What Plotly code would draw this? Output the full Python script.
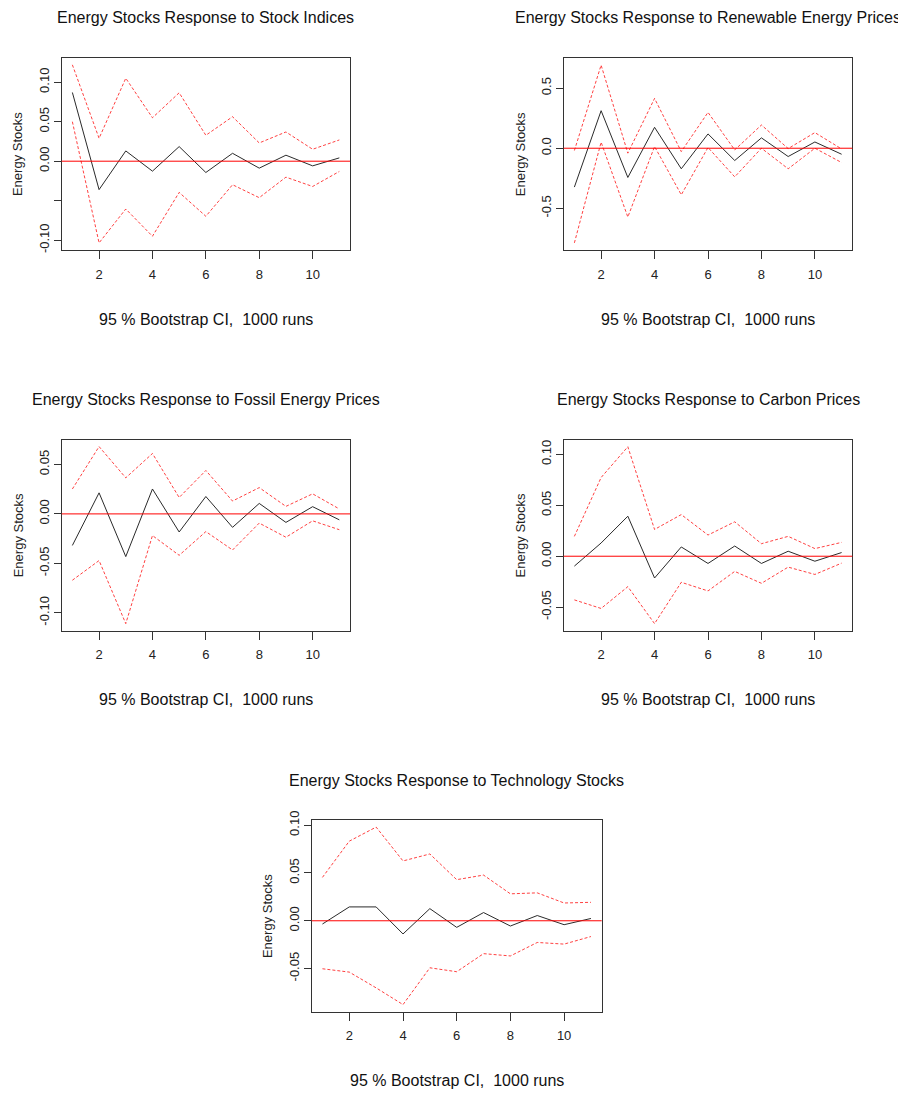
import plotly.graph_objects as go

steps = list(range(1, 12))

# Panel 1: Stock Indices
si_irf = [0.087, -0.036, 0.013, -0.0126, 0.0185, -0.0143, 0.010, -0.0088, 0.0076, -0.0059, 0.0042]
si_upper = [0.122, 0.029, 0.105, 0.055, 0.0866, 0.0328, 0.0563, 0.0231, 0.037, 0.0151, 0.0269]
si_lower = [0.050, -0.1034, -0.0605, -0.095, -0.0395, -0.0697, -0.0298, -0.0462, -0.0202, -0.032, -0.013]

# Panel 2: Renewable Energy Prices
re_irf = [-0.323, 0.312, -0.243, 0.174, -0.171, 0.119, -0.102, 0.086, -0.069, 0.052, -0.050]
re_upper = [-0.019, 0.691, -0.041, 0.414, -0.028, 0.298, -0.014, 0.193, -0.003, 0.130, -0.006]
re_lower = [-0.787, 0.050, -0.572, 0.014, -0.387, 0.006, -0.238, 0.0, -0.171, 0.0, -0.119]

# Panel 3: Fossil Energy Prices
fe_irf = [-0.0319, 0.0213, -0.0432, 0.0252, -0.0183, 0.0176, -0.0136, 0.0106, -0.0086, 0.0073, -0.006]
fe_upper = [0.0252, 0.0681, 0.0365, 0.0611, 0.0166, 0.0439, 0.013, 0.0266, 0.0076, 0.0203, 0.005]
fe_lower = [-0.0671, -0.0472, -0.111, -0.0219, -0.0419, -0.0179, -0.0365, -0.0093, -0.0236, -0.007, -0.016]

# Panel 4: Carbon Prices
cp_irf = [-0.0097, 0.013, 0.0393, -0.0214, 0.0091, -0.0071, 0.010, -0.0071, 0.0049, -0.0049, 0.0036]
cp_upper = [0.0195, 0.0773, 0.1075, 0.0263, 0.0409, 0.0208, 0.0338, 0.0123, 0.0195, 0.0075, 0.0136]
cp_lower = [-0.0429, -0.0513, -0.0299, -0.0662, -0.0256, -0.0341, -0.0149, -0.0266, -0.0107, -0.0179, -0.0068]

# Panel 5: Technology Stocks
ts_irf = [-0.0034, 0.0145, 0.0145, -0.0138, 0.0127, -0.0069, 0.0086, -0.0055, 0.0055, -0.0041, 0.0024]
ts_upper = [0.0454, 0.0833, 0.098, 0.0626, 0.0699, 0.043, 0.0478, 0.0282, 0.0292, 0.0186, 0.0193]
ts_lower = [-0.0502, -0.0537, -0.0702, -0.0877, -0.0492, -0.0533, -0.0344, -0.0368, -0.0227, -0.0244, -0.0165]

titles = [
    "Energy Stocks Response to Stock Indices",
    "Energy Stocks Response to Renewable Energy Prices",
    "Energy Stocks Response to Fossil Energy Prices",
    "Energy Stocks Response to Carbon Prices",
    "Energy Stocks Response to Technology Stocks",
]
y_tickvals = [
    [-0.10, -0.05, 0.00, 0.05, 0.10],
    [-0.5, 0.0, 0.5],
    [-0.10, -0.05, 0.00, 0.05],
    [-0.05, 0.00, 0.05, 0.10],
    [-0.05, 0.00, 0.05, 0.10],
]
y_ticktext = [
    ["-0.10", "", "0.00", "0.05", "0.10"],
    ["-0.5", "0.0", "0.5"],
    ["-0.10", "-0.05", "0.00", "0.05"],
    ["-0.05", "0.00", "0.05", "0.10"],
    ["-0.05", "0.00", "0.05", "0.10"],
]
x_tickvals = [2, 4, 6, 8, 10]
subtitle = "95 % Bootstrap CI,\u00a0 1000 runs"
ylab = "Energy Stocks"

panels = [
    (si_irf, si_upper, si_lower),
    (re_irf, re_upper, re_lower),
    (fe_irf, fe_upper, fe_lower),
    (cp_irf, cp_upper, cp_lower),
    (ts_irf, ts_upper, ts_lower),
]

# page body has an 8px margin, so the figure is drawn 8px smaller and shifted
OFF = 8
W, H = 906 - OFF, 1095 - OFF
# plot boxes in page pixels: (left, right, top, bottom)
boxes = [
    (61.7, 350.0, 57.7, 250.0),
    (563.7, 852.3, 58.0, 250.0),
    (61.7, 350.0, 439.5, 630.7),
    (563.7, 852.3, 439.7, 630.7),
    (311.7, 601.7, 820.0, 1011.7),
]

FONT = "Liberation Sans, Arial, sans-serif"
CI_LINE = dict(color="rgba(255,0,0,0.75)", width=1, dash="3px,2px")

def px(v):
    return v / W

def py(v):
    return 1 - v / H

fig = go.Figure()
annotations = []
shapes = []

for i, ((irf, up, lo), box, title) in enumerate(zip(panels, boxes, titles)):
    n = i + 1
    xa = "x" if n == 1 else f"x{n}"
    ya = "y" if n == 1 else f"y{n}"
    l, r, t, b = (v - OFF for v in box)
    allv = irf + up + lo
    vmin, vmax = min(allv), max(allv)
    pad = 0.04 * (vmax - vmin)
    xpad = 0.04 * (max(steps) - min(steps))

    fig.add_trace(go.Scatter(x=steps, y=up, mode="lines", xaxis=xa, yaxis=ya,
                             line=CI_LINE, showlegend=False, hoverinfo="skip"))
    fig.add_trace(go.Scatter(x=steps, y=lo, mode="lines", xaxis=xa, yaxis=ya,
                             line=CI_LINE, showlegend=False, hoverinfo="skip"))
    fig.add_trace(go.Scatter(x=steps, y=irf, mode="lines", xaxis=xa, yaxis=ya,
                             line=dict(color="#2a2a2a", width=1),
                             showlegend=False, hoverinfo="skip"))

    shapes.append(dict(type="line", xref=f"{xa} domain", yref=ya, x0=0, x1=1, y0=0, y1=0,
                       line=dict(color="#ff0000", width=1), layer="above"))

    xkey = "xaxis" if n == 1 else f"xaxis{n}"
    ykey = "yaxis" if n == 1 else f"yaxis{n}"
    fig.update_layout(**{
        xkey: dict(domain=[px(l), px(r)], anchor=ya, automargin=False,
                   range=[min(steps) - xpad, max(steps) + xpad],
                   tickvals=x_tickvals, ticks="outside", ticklen=8, tickcolor="#333",
                   showline=True, mirror=True, linecolor="#333", linewidth=1,
                   showgrid=False, zeroline=False,
                   tickfont=dict(family=FONT, size=13, color="#222"),
                   ticklabelstandoff=4),
        ykey: dict(domain=[py(b), py(t)], anchor=xa, automargin=False,
                   range=[vmin - pad, vmax + pad],
                   tickvals=y_tickvals[i], ticktext=y_ticktext[i],
                   ticks="outside", ticklen=7, tickcolor="#333", tickangle=-90,
                   showline=True, mirror=True, linecolor="#333", linewidth=1,
                   showgrid=False, zeroline=False,
                   tickfont=dict(family=FONT, size=13, color="#222")),
    })

    cx = px((l + r) / 2)
    annotations.append(dict(text=title, x=cx, y=py(t - 40), xref="paper", yref="paper",
                            xanchor="center", yanchor="middle", showarrow=False,
                            font=dict(family=FONT, size=16, color="#111")))
    annotations.append(dict(text=subtitle, x=cx, y=py(b + 69), xref="paper", yref="paper",
                            xanchor="center", yanchor="middle", showarrow=False,
                            font=dict(family=FONT, size=16, color="#111")))
    annotations.append(dict(text=ylab, x=px(l - 43.5), y=py((t + b) / 2), xref="paper", yref="paper",
                            xanchor="center", yanchor="middle", showarrow=False, textangle=-90,
                            font=dict(family=FONT, size=13, color="#222")))

fig.update_layout(width=W, height=H, margin=dict(l=0, r=0, t=0, b=0, autoexpand=False),
                  paper_bgcolor="white", plot_bgcolor="white",
                  annotations=annotations, shapes=shapes, showlegend=False)

fig.write_html("out.html")
